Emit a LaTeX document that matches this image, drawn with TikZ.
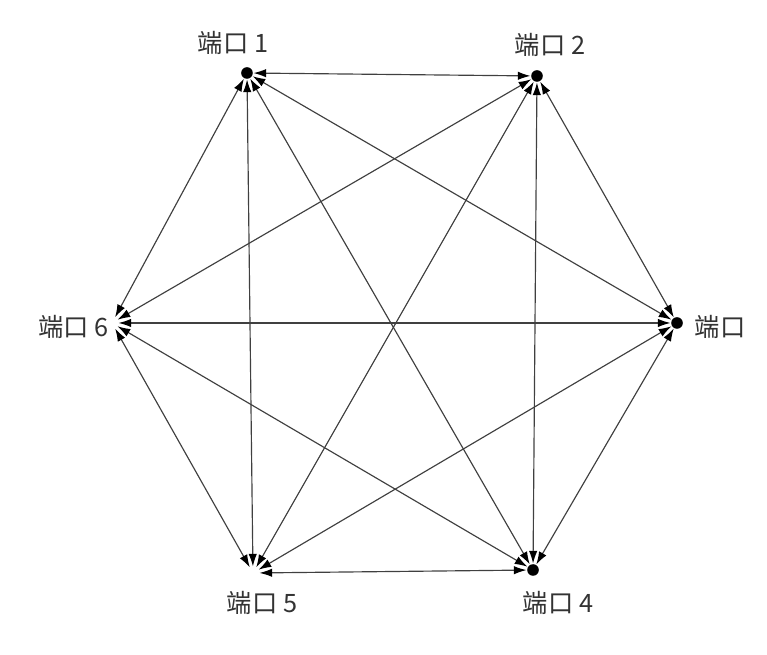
\documentclass[tikz,border=0pt]{standalone}
\usepackage{fontspec}
\setmainfont{Liberation Serif}
\newfontfamily\cjk{Noto Sans CJK TC}
\usetikzlibrary{arrows.meta}
\begin{document}
\begin{tikzpicture}[
	port/.style={circle,fill=black,inner sep=0pt,minimum size=11pt},
	openport/.style={circle,inner sep=0pt,minimum size=11pt},
	link/.style={{Latex[length=12pt,width=8pt,color=black]}-{Latex[length=12pt,width=8pt,color=black]},gray!50!black,line width=1.1pt,shorten >=0.5pt,shorten <=0.5pt},
	tag/.style={font=\cjk\fontsize{24}{28}\selectfont,text=black!80}]
	\useasboundingbox (0,0) rectangle (25.567,21.833);
	% ports
	\node[port] (p1) at (8.233,19.4) {};
	\node[port] (p2) at (17.9,19.3) {};
	\node[port] (p3) at (22.567,11.067) {};
	\node[port] (p4) at (17.767,2.833) {};
	\node[openport] (p5) at (8.433,2.733) {};
	\node[openport] (p6) at (3.733,11.067) {};
	% labels
	\node[tag] (t1) at (7.767,20.4) {端口 1};
	\node[tag] (t2) at (18.333,20.35) {端口 2};
	\node[tag] (t3) at (24.0,10.95) {端口};
	\node[tag,anchor=east] (t6) at (3.75,10.95) {端口 6};
	\node[tag] (t5) at (8.733,1.75) {端口 5};
	\node[tag] (t4) at (18.6,1.75) {端口 4};
	% links
	\foreach \a/\b in {1/2,1/3,1/4,1/5,1/6,2/3,2/4,2/5,2/6,3/4,3/5,3/6,4/5,4/6,5/6}
		\draw[link] (p\a) -- (p\b);
\end{tikzpicture}
\end{document}
